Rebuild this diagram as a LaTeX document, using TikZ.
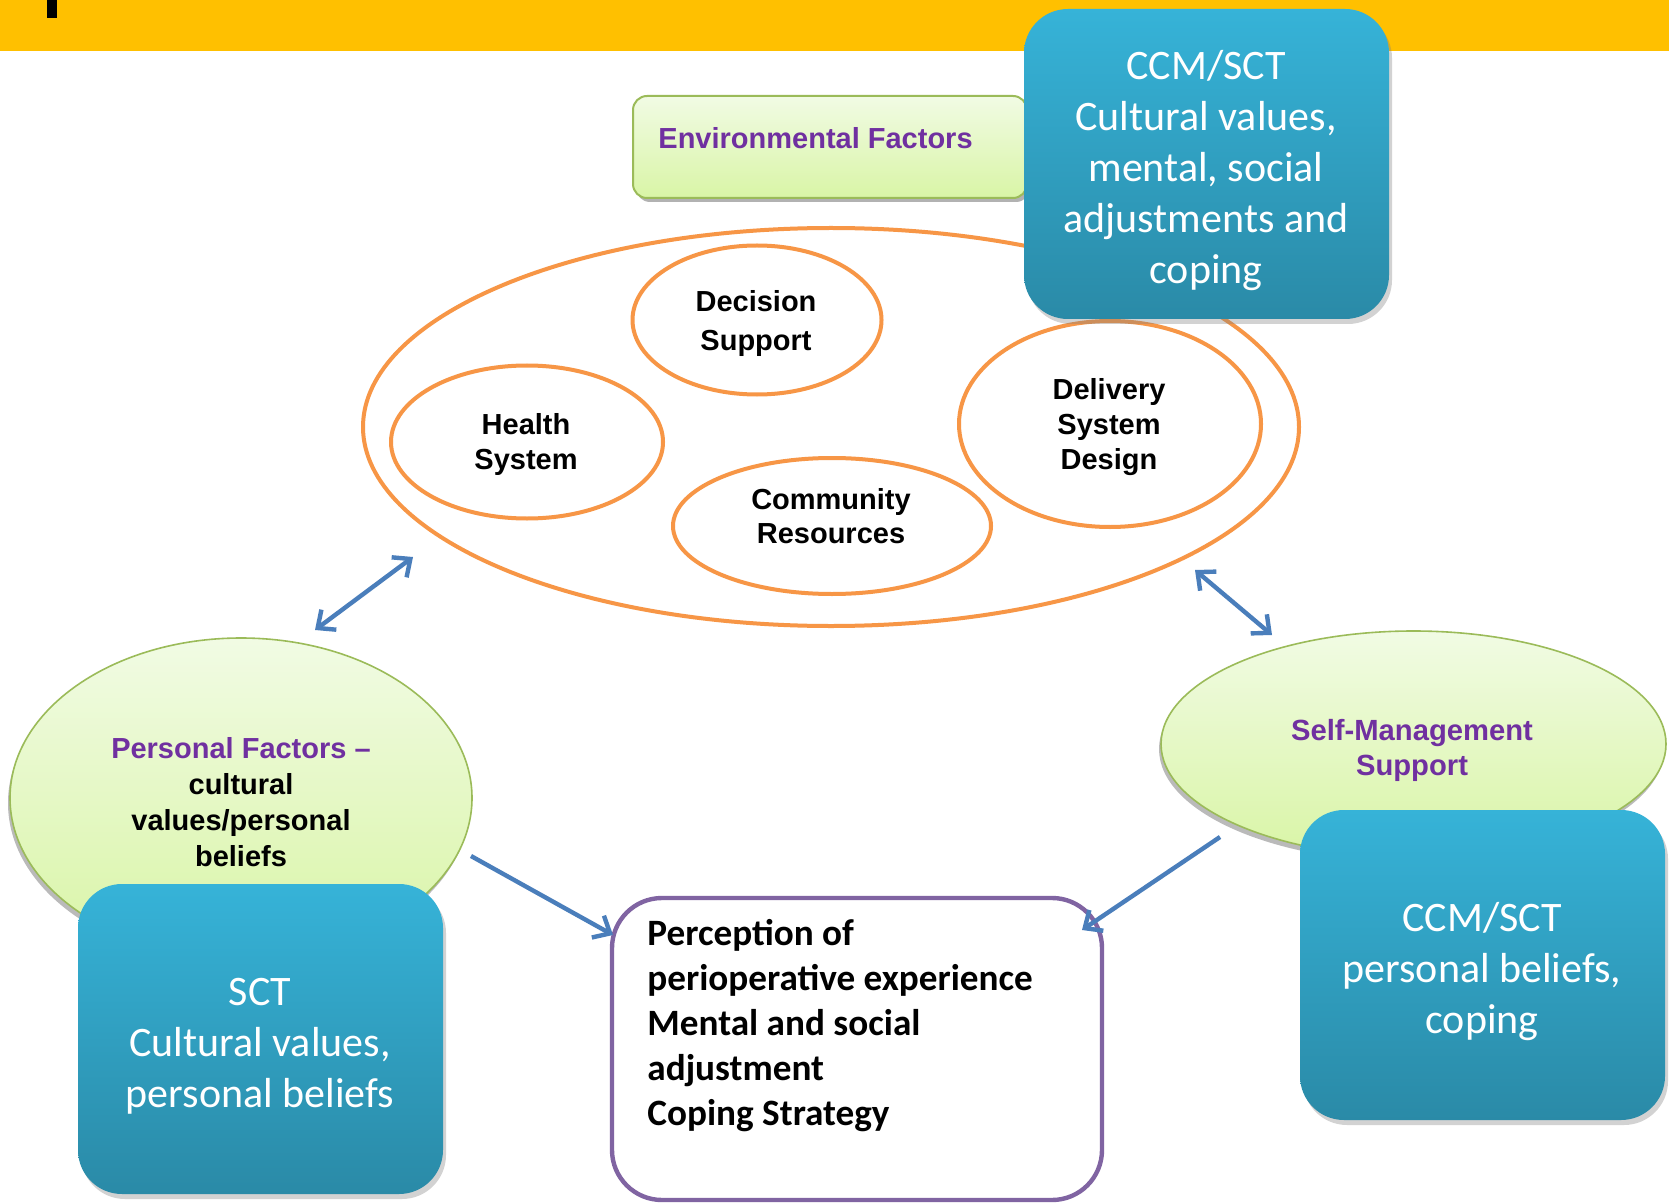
\documentclass[tikz,border=0pt]{standalone}
\usepackage{fontspec}
\setmainfont{Liberation Sans}
\newfontfamily\calibri{Carlito}
\usetikzlibrary{shapes.geometric,shadows,arrows.meta}
\definecolor{band}{HTML}{FFC000}
\definecolor{orng}{HTML}{F79646}
\definecolor{purp}{HTML}{7030A0}
\definecolor{grnb}{HTML}{9BBB59}
\definecolor{gtop}{HTML}{F1FBE4}
\definecolor{gbot}{HTML}{D9F5A6}
\definecolor{btop}{HTML}{36B3D8}
\definecolor{bbot}{HTML}{2A8AA7}
\definecolor{arrb}{HTML}{4A7EBB}
\definecolor{boxp}{HTML}{8064A2}
\begin{document}
\begin{tikzpicture}[x=0.5pt,y=-0.5pt,
  orell/.style={ellipse, draw=orng, line width=2pt, inner sep=0pt, fill=white},
  ortext/.style={inner sep=0pt, align=center, font=\bfseries\fontsize{14.5}{17.5}\selectfont},
  grell/.style={ellipse, draw=grnb, line width=0.8pt, inner sep=0pt,
    top color=gtop, bottom color=gbot, align=center,
    drop shadow={shadow xshift=-1pt, shadow yshift=-2.5pt, fill=black!45, opacity=0.6}},
  bluebox/.style={rectangle, rounded corners=22pt, inner sep=0pt,
    top color=btop, bottom color=bbot, draw=none,
    minimum width=182.5pt, minimum height=155pt,
    drop shadow={shadow xshift=1.5pt, shadow yshift=-2.5pt, fill=black!50, opacity=0.35}},
  bluetext/.style={inner sep=0pt, text=white, align=center,
    font=\calibri\fontsize{21}{25.5}\selectfont},
  tipb/.tip={Straight Barb[length=7pt,width=12.5pt]},
  arr/.style={draw=arrb, line width=2.2pt, -tipb},
  darr/.style={draw=arrb, line width=2.2pt, tipb-tipb}
]
\useasboundingbox (0,0) rectangle (1669,1203);
\fill[white] (0,0) rectangle (1669,1203);
% top band
\fill[band] (0,0) rectangle (1669,51);
\fill[black] (47,0) rectangle (57,18);

% big orange ellipse
\node[ellipse, draw=orng, line width=2pt, inner sep=0pt, minimum width=468pt, minimum height=199pt] (big) at (831,427) {};

% environmental factors
\node[rectangle, rounded corners=7pt, minimum width=197pt, minimum height=51pt,
  top color=gtop, bottom color=gbot, draw=grnb, line width=1pt,
  drop shadow={shadow xshift=1.5pt, shadow yshift=-2pt, fill=black!50, opacity=0.6}] (env) at (830,147) {};
\node[anchor=west, inner sep=0pt, text=purp, font=\bfseries\fontsize{14.5}{17}\selectfont] (envt) at (658,138) {Environmental Factors};

% inner ellipses
\node[orell, minimum width=124.5pt, minimum height=74.5pt] (dec) at (757,320) {};
\node[ortext, font=\bfseries\fontsize{14.5}{19.5}\selectfont] (dect) at (756,324) {Decision\\Support};
\node[orell, minimum width=136pt, minimum height=76.5pt] (hs) at (527,442) {};
\node[ortext] (hst) at (526,445) {Health\\System};
\node[orell, minimum width=159pt, minimum height=68pt] (cr) at (832,526) {};
\node[ortext, font=\bfseries\fontsize{14.5}{17}\selectfont] (crt) at (831,516) {Community\\Resources};
\node[orell, minimum width=151pt, minimum height=103pt] (dsd) at (1110,424) {};
\node[ortext] (dsdt) at (1109,427) {Delivery\\System\\Design};

% top CCM/SCT box
\node[bluebox] (ccm1) at (1206.5,164) {};
\node[bluetext] (ccm1t) at (1206,171) {CCM/SCT\\Cultural values,\\mental, social\\adjustments and\\coping};

% personal factors
\node[grell, minimum width=231pt, minimum height=160pt] (pf) at (241,798) {};
\node[inner sep=0pt, align=center, font=\bfseries\fontsize{14.5}{18}\selectfont] (pft) at (241,802)
  {\textcolor{purp}{Personal Factors –}\\cultural\\values/personal\\beliefs};
\node[bluebox] (sct) at (260.5,1039) {};
\node[bluetext] (sctt) at (260,1046) {SCT\\Cultural values,\\personal beliefs};

% self-management
\node[grell, minimum width=252.5pt, minimum height=113pt] (sms) at (1413.5,744) {};
\node[inner sep=0pt, align=center, text=purp, font=\bfseries\fontsize{14.6}{17.5}\selectfont] (smst) at (1412,750) {Self-Management\\Support};
\node[bluebox] (ccm2) at (1482.5,965) {};
\node[bluetext] (ccm2t) at (1482,972) {CCM/SCT\\personal beliefs,\\coping};

% perception box
\node[rectangle, rounded corners=25pt, draw=boxp, line width=2.2pt, fill=white,
  minimum width=245pt, minimum height=151pt] (per) at (857,1049) {};
\node[anchor=base west, inner sep=0pt, align=left, font=\calibri\bfseries\fontsize{18.6}{22.5}\selectfont] (pert) at (647,1125)
  {Perception of\\perioperative experience\\Mental and social\\adjustment\\Coping Strategy};

% arrows
\coordinate (a1s) at (315,630);
\coordinate (a1e) at (413,557);
\coordinate (a2s) at (1195,570);
\coordinate (a2e) at (1272,635);
\coordinate (a3s) at (471,856);
\coordinate (a3e) at (613,935);
\coordinate (a4s) at (1220,837);
\coordinate (a4e) at (1082,930);
\draw[darr] (a1s) -- (a1e);
\draw[darr] (a2s) -- (a2e);
\draw[arr] (a3s) -- (a3e);
\draw[arr] (a4s) -- (a4e);
\end{tikzpicture}
\end{document}
